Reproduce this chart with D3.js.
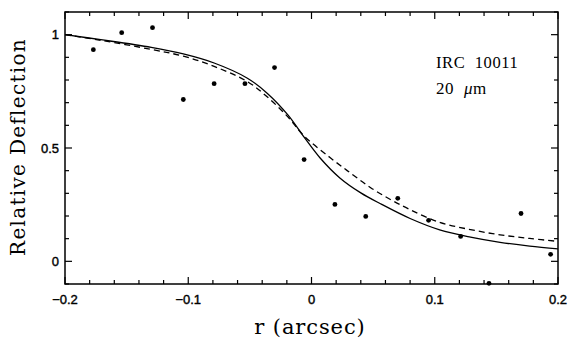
<!DOCTYPE html>
<html><head><meta charset="utf-8">
<script src="https://cdn.jsdelivr.net/npm/d3@7"></script>
<style>body{margin:0;background:#fff;}svg{display:block;}</style>
</head><body>
<script>
// Data points (r in arcsec, relative deflection)
const obsR = [-0.177,-0.154,-0.129,-0.104,-0.079,-0.054,-0.030,-0.006,0.019,0.044,0.070,0.095,0.121,0.144,0.170,0.194];
const obsV = [0.934,1.009,1.031,0.714,0.784,0.784,0.855,0.449,0.251,0.198,0.278,0.181,0.110,-0.097,0.211,0.031];
// Solid model curve
const solidR = [-0.2,-0.171,-0.130,-0.104,-0.079,-0.052,-0.036,-0.019,-0.006,0.007,0.023,0.040,0.056,0.080,0.104,0.129,0.153,0.177,0.2];
const solidV = [1.0,0.978,0.944,0.915,0.875,0.808,0.742,0.645,0.548,0.456,0.368,0.302,0.254,0.189,0.139,0.107,0.084,0.067,0.055];
// Dashed model curve
const dashR = [-0.2,-0.171,-0.130,-0.104,-0.079,-0.052,-0.036,-0.019,-0.006,0.015,0.032,0.048,0.064,0.080,0.104,0.129,0.153,0.177,0.2];
const dashV = [1.0,0.975,0.935,0.905,0.860,0.793,0.726,0.636,0.553,0.458,0.388,0.325,0.273,0.228,0.172,0.140,0.117,0.101,0.088];
const xMajor = [-0.2,-0.1,0,0.1,0.2];
const xMajorLabels = ["\u22120.2","\u22120.1","0","0.1","0.2"];
const yMajor = [0,0.5,1];
const yMajorLabels = ["0","0.5","1"];
const xTitle = "r (arcsec)";
const yTitle = "Relative Deflection";
const annot1 = "IRC 10011";
const annot2a = "20 ";
const annot2b = "\u03BC";
const annot2c = "m";

const W = 570, H = 348;
const m = {left:65, right:12, top:12, bottom:64};
const svg = d3.select("body").append("svg").attr("width",W).attr("height",H);
const x = d3.scaleLinear().domain([-0.2,0.2]).range([m.left, W-m.right]);
const y = d3.scaleLinear().domain([-0.1,1.1]).range([H-m.bottom, m.top]);

const xMinor = d3.range(-0.2,0.2001,0.02).map(v=>+v.toFixed(2));
const yMinor = d3.range(-0.1,1.1001,0.1).map(v=>+v.toFixed(1));
const isMajX = v => xMajor.some(t=>Math.abs(t-v)<1e-6);
const isMajY = v => yMajor.some(t=>Math.abs(t-v)<1e-6);

const g = svg.append("g");
// ticks (inward)
const tk = g.append("g").attr("stroke","#000").attr("stroke-width",1.2);
xMinor.forEach(v=>{
  const L = isMajX(v)?7:4;
  tk.append("line").attr("x1",x(v)).attr("x2",x(v)).attr("y1",y(-0.1)).attr("y2",y(-0.1)-L);
  tk.append("line").attr("x1",x(v)).attr("x2",x(v)).attr("y1",y(1.1)).attr("y2",y(1.1)+L);
});
yMinor.forEach(v=>{
  const L = isMajY(v)?7:4;
  tk.append("line").attr("y1",y(v)).attr("y2",y(v)).attr("x1",x(-0.2)).attr("x2",x(-0.2)+L);
  tk.append("line").attr("y1",y(v)).attr("y2",y(v)).attr("x1",x(0.2)).attr("x2",x(0.2)-L);
});
// frame
g.append("rect").attr("x",x(-0.2)).attr("y",y(1.1)).attr("width",x(0.2)-x(-0.2)).attr("height",y(-0.1)-y(1.1))
  .attr("fill","none").attr("stroke","#000").attr("stroke-width",1.5);

// tick labels
const lf = "'Liberation Sans', Arial, sans-serif";
g.selectAll(".xl").data(xMajor).enter().append("text")
  .attr("x",(d)=>x(d)).attr("y",y(-0.1)+20).attr("text-anchor","middle")
  .attr("font-family",lf).attr("font-size",13).attr("stroke","#000").attr("stroke-width",0.4)
  .text((d,i)=>xMajorLabels[i]);
g.selectAll(".yl").data(yMajor).enter().append("text")
  .attr("x",x(-0.2)-6).attr("y",d=>y(d)).attr("dy","0.35em").attr("text-anchor","end")
  .attr("font-family",lf).attr("font-size",13).attr("stroke","#000").attr("stroke-width",0.4)
  .text((d,i)=>yMajorLabels[i]);

// axis titles
const sf = "'DejaVu Serif', serif";
g.append("text").attr("x",310).attr("y",334).attr("text-anchor","middle")
  .attr("font-family",sf).attr("font-size",21).attr("letter-spacing",0.9).text(xTitle);
g.append("text").attr("transform",`translate(25,147) rotate(-90)`).attr("text-anchor","middle")
  .attr("font-family",sf).attr("font-size",20).attr("letter-spacing",1.3).text(yTitle);

// annotations
const af = "'Liberation Serif', 'Times New Roman', serif";
g.append("text").attr("x",436).attr("y",68).attr("font-family",af).attr("font-size",16.5)
  .attr("letter-spacing",0.6).attr("xml:space","preserve").text(annot1.replace(" ","  "));
const t2 = g.append("text").attr("x",436).attr("y",94).attr("font-family",af).attr("font-size",17).attr("letter-spacing",0.6).attr("xml:space","preserve");
t2.append("tspan").text(annot2a+" ");
t2.append("tspan").attr("font-style","italic").text(annot2b);
t2.append("tspan").text(annot2c);

// curves
const line = d3.line().x(d=>x(d[0])).y(d=>y(d[1])).curve(d3.curveCatmullRom.alpha(0.5));
g.append("path").datum(solidR.map((r,i)=>[r,solidV[i]])).attr("d",line)
  .attr("fill","none").attr("stroke","#000").attr("stroke-width",1.3);
g.append("path").datum(dashR.map((r,i)=>[r,dashV[i]])).attr("d",line)
  .attr("fill","none").attr("stroke","#000").attr("stroke-width",1.3).attr("stroke-dasharray","6,4");

// points
g.selectAll(".pt").data(obsR.map((r,i)=>[r,obsV[i]])).enter().append("circle")
  .attr("cx",d=>x(d[0])).attr("cy",d=>y(d[1])).attr("r",2.4).attr("fill","#000");
</script>
</body></html>
